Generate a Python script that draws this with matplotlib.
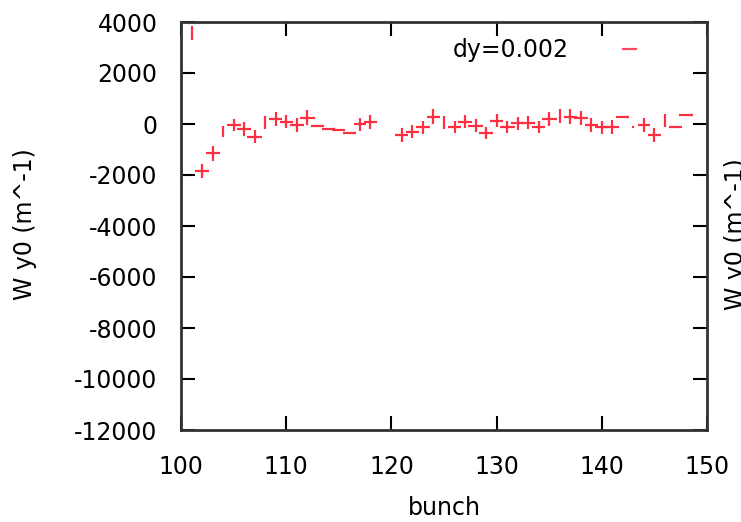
import matplotlib
matplotlib.use("Agg")
import matplotlib.pyplot as plt
from matplotlib.lines import Line2D

plt.rcParams['font.family'] = ['DejaVu Sans']
plt.rcParams['axes.unicode_minus'] = False

# data
bunch = [101, 102, 103, 104, 105, 106, 107, 108, 109, 110,
         111, 112, 113, 114, 115, 116, 117, 118,
         121, 122, 123, 124, 125, 126, 127, 128, 129, 130,
         131, 132, 133, 134, 135, 136, 137, 138, 139, 140,
         141, 142, 143, 144, 145, 146, 147, 148]
wy0 = [3570, -1840, -1150, -295, -27, -196, -497, 65, 210, 85,
       -40, 250, -65, -196, -222, -340, -12, 80,
       -430, -300, -130, 285, 65, -130, 90, -65, -365, 130,
       -105, 25, 50, -105, 185, 320, 285, 225, -40, -130,
       -130, 285, -130, -40, -430, 145, -130, 350]
bunch_err = [0.05, 0.67, 0.67, 0.1, 0.67, 0.63, 0.71, 0.1, 0.59, 0.6,
             0.67, 0.71, 0.62, 0.62, 0.63, 0.6, 0.6, 0.6,
             0.62, 0.63, 0.7, 0.63, 0.1, 0.63, 0.63, 0.71, 0.65, 0.63,
             0.71, 0.63, 0.67, 0.63, 0.71, 0.05, 0.6, 0.65, 0.63, 0.63,
             0.67, 0.62, 0.1, 0.59, 0.6, 0.05, 0.6, 0.63]
wy0_err = [280, 260, 290, 220, 240, 290, 250, 250, 275, 250,
           260, 300, 20, 40, 20, 20, 260, 275,
           260, 260, 260, 290, 250, 240, 260, 250, 240, 250,
           230, 260, 260, 240, 275, 270, 290, 280, 260, 260,
           270, 20, 40, 290, 260, 250, 20, 20]

xticks = [100, 110, 120, 130, 140, 150]
yticks = [4000, 2000, 0, -2000, -4000, -6000, -8000, -10000, -12000]

red = '#ff2f42'
fs = 17

fig = plt.figure(figsize=(7.41, 5.22), dpi=100)
ax = fig.add_axes([181/741, 1 - 430/522, 526/741, 408/522])

ax.errorbar(bunch, wy0, xerr=bunch_err, yerr=wy0_err, fmt='none',
            ecolor=red, elinewidth=1.6, capsize=0)

ax.set_xlim(100, 150)
ax.set_ylim(-12000, 4000)
ax.set_xticks(xticks)
ax.set_yticks(yticks)
ax.tick_params(direction='in', length=10, width=1.5, labelsize=fs,
               top=True, right=True, colors='black')
ax.tick_params(axis='y', pad=17)
ax.tick_params(axis='x', pad=18)
for s in ax.spines.values():
    s.set_linewidth(2)
    s.set_color('#333333')

ax.set_xlabel('bunch', fontsize=fs, labelpad=12)
fig.text(25/741, 1 - 224/522, 'W y0 (m^-1)', rotation=90, fontsize=fs,
         ha='center', va='center')
# right label, partly cut by the figure edge as in the reference
fig.text(724/741, 1 - 234/522, 'W y0 (m^-1)', rotation=90, fontsize=fs,
         ha='left', va='center')

handle = Line2D([], [], color='#ff4a5a', lw=1.6)
ax.legend([handle], ['dy=0.002'], loc='center right', markerfirst=False,
          bbox_to_anchor=(0.865, (430 - 50)/408), frameon=False,
          fontsize=fs, handlelength=0.55, handletextpad=2.3,
          borderpad=0, borderaxespad=0)

fig.savefig('out.png', dpi=100)
